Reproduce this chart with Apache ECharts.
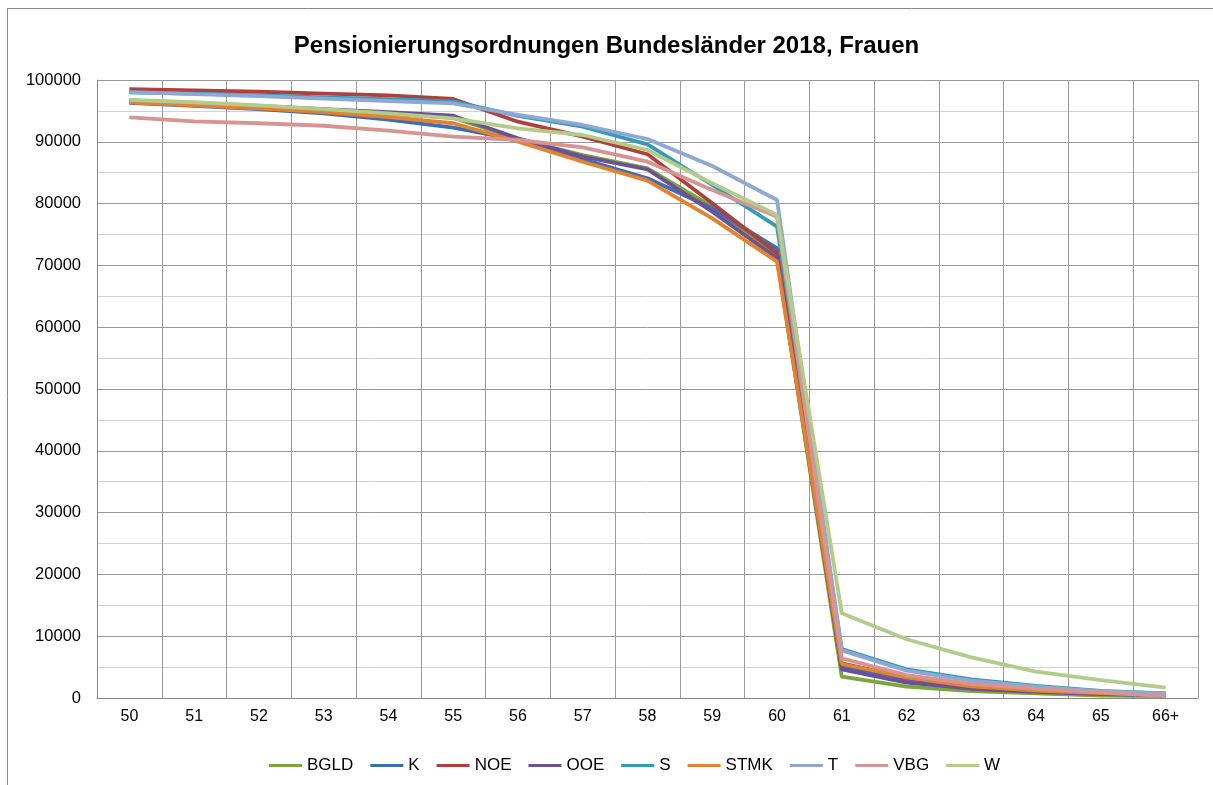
<!DOCTYPE html>
<html>
<head>
<meta charset="utf-8">
<script src="https://cdn.jsdelivr.net/npm/echarts@6/dist/echarts.min.js"></script>
<style>
  html, body { margin: 0; padding: 0; background: #fff; }
  #main { width: 1213px; height: 785px; }
</style>
</head>
<body>
<div id="main"></div>
<script>
// Altersstufen (x-Achse)
var ages = ['50', '51', '52', '53', '54', '55', '56', '57', '58', '59', '60', '61', '62', '63', '64', '65', '66+'];

// Werte je Bundesland
var bgld = [96600, 96200, 95700, 95200, 94500, 93900, 90450, 87860, 85710, 79500, 71410, 3450, 1830, 1130, 760, 400, 300];
var k    = [96300, 95800, 95300, 94600, 93600, 92280, 90300, 87170, 84090, 79240, 72770, 4970, 2910, 1700, 1100, 750, 700];
var noe  = [98500, 98300, 98100, 97800, 97500, 96930, 93250, 90830, 87980, 80050, 71960, 5600, 3300, 2000, 1300, 850, 500];
var ooe  = [96700, 96300, 95800, 95300, 94800, 94220, 90570, 87590, 85550, 78690, 71150, 4640, 2480, 1500, 1000, 650, 450];
var s    = [98000, 97800, 97500, 97200, 96900, 96550, 94200, 92440, 89590, 83010, 76260, 7900, 4640, 3020, 1940, 1130, 760];
var stmk = [96400, 95900, 95400, 94800, 94000, 93000, 90020, 86780, 83710, 77620, 70600, 5500, 3350, 1900, 1200, 800, 500];
var t    = [98050, 97700, 97400, 97000, 96600, 96220, 94340, 92720, 90450, 86080, 80580, 7700, 4420, 2800, 1850, 1050, 760];
var vbg  = [93960, 93300, 93000, 92600, 91800, 90830, 90290, 89100, 86780, 82200, 77880, 6420, 3720, 2270, 1500, 900, 320];
var w    = [96800, 96400, 95900, 95300, 94600, 93800, 92180, 91100, 88670, 83280, 78150, 13700, 9500, 6580, 4260, 2910, 1670];

var names = ['BGLD', 'K', 'NOE', 'OOE', 'S', 'STMK', 'T', 'VBG', 'W'];
var values = [bgld, k, noe, ooe, s, stmk, t, vbg, w];
var colors = ['#7BA63C', '#3C6EB4', '#B0403B', '#6E5096', '#339BB5', '#E3822F', '#8EA8D4', '#D69593', '#B3CC8C'];

var font = "'Liberation Sans', Arial, sans-serif";

var chart = echarts.init(document.getElementById('main'));

var series = names.map(function (n, i) {
  return {
    name: n,
    type: 'line',
    data: values[i],
    symbol: 'none',
    color: colors[i],
    lineStyle: { width: 3.8, color: colors[i] },
    emphasis: { disabled: true }
  };
});

var option = {
  backgroundColor: '#fff',
  animation: false,
  title: {
    text: 'Pensionierungsordnungen Bundesländer 2018, Frauen',
    left: 'center',
    top: 29,
    textStyle: { fontFamily: font, fontSize: 24, fontWeight: 'bold', color: '#000' }
  },
  legend: {
    bottom: 6,
    left: 264,
    icon: 'rect',
    itemWidth: 33,
    itemHeight: 3,
    itemGap: 17,
    textStyle: { fontFamily: font, fontSize: 17, color: '#000' },
    data: names
  },
  grid: { left: 97, right: 15, top: 80, bottom: 87 },
  xAxis: {
    type: 'category',
    data: ages,
    boundaryGap: true,
    axisLine: { lineStyle: { color: '#888', width: 1 } },
    axisTick: { show: false },
    axisLabel: { fontFamily: font, fontSize: 16, color: '#000', margin: 11 },
    splitLine: { show: true, lineStyle: { color: '#999', width: 1 } }
  },
  yAxis: {
    type: 'value',
    min: 0,
    max: 100000,
    interval: 10000,
    axisLine: { show: true, lineStyle: { color: '#888' } },
    axisTick: { show: false },
    axisLabel: {
      fontFamily: font, fontSize: 16.5, color: '#000', margin: 16,
      formatter: function (v) { return String(v); }
    },
    splitLine: { lineStyle: { color: '#999', width: 1 } },
    minorTick: { show: false, splitNumber: 2 },
    minorSplitLine: { show: true, lineStyle: { color: '#d0d0d0', width: 1 } }
  },
  graphic: [
    { type: 'line', shape: { x1: 7, y1: 8.5, x2: 1213, y2: 8.5 }, style: { stroke: '#888', lineWidth: 1 } },
    { type: 'line', shape: { x1: 7.5, y1: 8, x2: 7.5, y2: 785 }, style: { stroke: '#888', lineWidth: 1 } }
  ],
  series: series
};

chart.setOption(option);
</script>
</body>
</html>
